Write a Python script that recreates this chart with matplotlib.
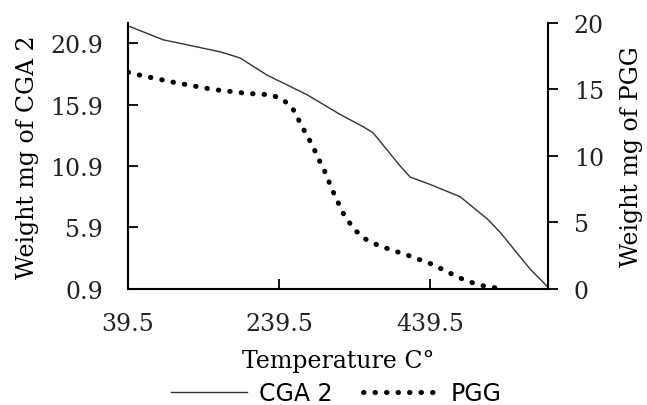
import matplotlib
matplotlib.use("Agg")
import matplotlib.pyplot as plt

# CGA 2 weight (left axis)
cga_temp = [39.5, 42.1, 85.9, 117.6, 161.4, 187.8, 223.6, 276.6, 320.3, 350.8,
            364.0, 399.8, 413.0, 439.5, 479.2, 515.0, 532.2, 572.0, 594.4]
cga_weight = [22.3, 22.25, 21.18, 20.77, 20.2, 19.7, 18.3, 16.7, 15.1, 14.1,
              13.6, 10.9, 10.0, 9.4, 8.4, 6.6, 5.5, 2.5, 1.1]

# PGG weight (right axis)
pgg_temp = [39.5, 44.4, 103.1, 151.7, 197.1, 228.5, 244.4, 257.6, 271.3, 279.2,
            285.9, 292.5, 299.1, 311.0, 323.9, 332.2, 342.4, 354.3, 368.9,
            384.3, 411.3, 440.8, 466.0, 487.2, 515.9, 532.2]
pgg_weight = [16.3, 16.2, 15.5, 15.0, 14.7, 14.6, 14.25, 13.55, 12.05, 11.25,
              10.5, 9.68, 8.93, 7.3, 5.72, 5.0, 4.3, 3.73, 3.32,
              3.0, 2.5, 1.88, 1.18, 0.6, 0.13, 0.05]

x_ticks = [39.5, 239.5, 439.5]
left_ticks = [0.9, 5.9, 10.9, 15.9, 20.9]
right_ticks = [0, 5, 10, 15, 20]

serif = ["DejaVu Serif"]

fig, ax = plt.subplots(figsize=(6.47, 4.06), dpi=100)
fig.subplots_adjust(left=0.198, right=0.847, top=0.941, bottom=0.286)
ax2 = ax.twinx()

l1, = ax.plot(cga_temp, cga_weight, color="#333333", linewidth=1.0, label="CGA 2")
l2, = ax2.plot(pgg_temp, pgg_weight, color="black", linewidth=3.6,
               linestyle=(0, (0.1, 2.2)), dash_capstyle="round", label="PGG")

ax.set_xlim(39.5, 595.5)
ax.set_ylim(0.9, 22.55)
ax2.set_ylim(0, 20)

ax.set_xticks(x_ticks)
ax.set_xticklabels(["39.5", "239.5", "439.5"])
ax.set_yticks(left_ticks)
ax.set_yticklabels([f"{v:.1f}" for v in left_ticks])
ax2.set_yticks(right_ticks)

for a in (ax, ax2):
    a.spines["top"].set_visible(False)
    for s in a.spines.values():
        s.set_linewidth(1.5)
ax.spines["right"].set_visible(False)
ax2.spines["left"].set_visible(False)
ax2.spines["bottom"].set_visible(False)

ax.tick_params(axis="y", direction="in", length=7.5, width=1.3, pad=18, labelsize=17)
ax.tick_params(axis="x", direction="in", length=7.5, width=1.3, pad=17, labelsize=17)
ax2.tick_params(axis="y", direction="out", length=7.5, width=1.3, pad=11, labelsize=17)
for lab in ax.get_xticklabels() + ax.get_yticklabels() + ax2.get_yticklabels():
    lab.set_family(serif)
    lab.set_color("#222222")

ax.set_xlabel("Temperature C°", family=serif, fontsize=17, labelpad=10)
ax.set_ylabel("Weight mg of CGA 2", family=serif, fontsize=17, labelpad=8)
ax2.set_ylabel("Weight mg of PGG", family=serif, fontsize=17, labelpad=12)

fig.legend(handles=[l1, l2], loc="center", bbox_to_anchor=(0.52, 0.03),
           ncol=2, frameon=False, prop={"family": "DejaVu Sans", "size": 17},
           handlelength=3.2, handletextpad=0.5, columnspacing=1.3)

fig.savefig("out.png", dpi=100)
